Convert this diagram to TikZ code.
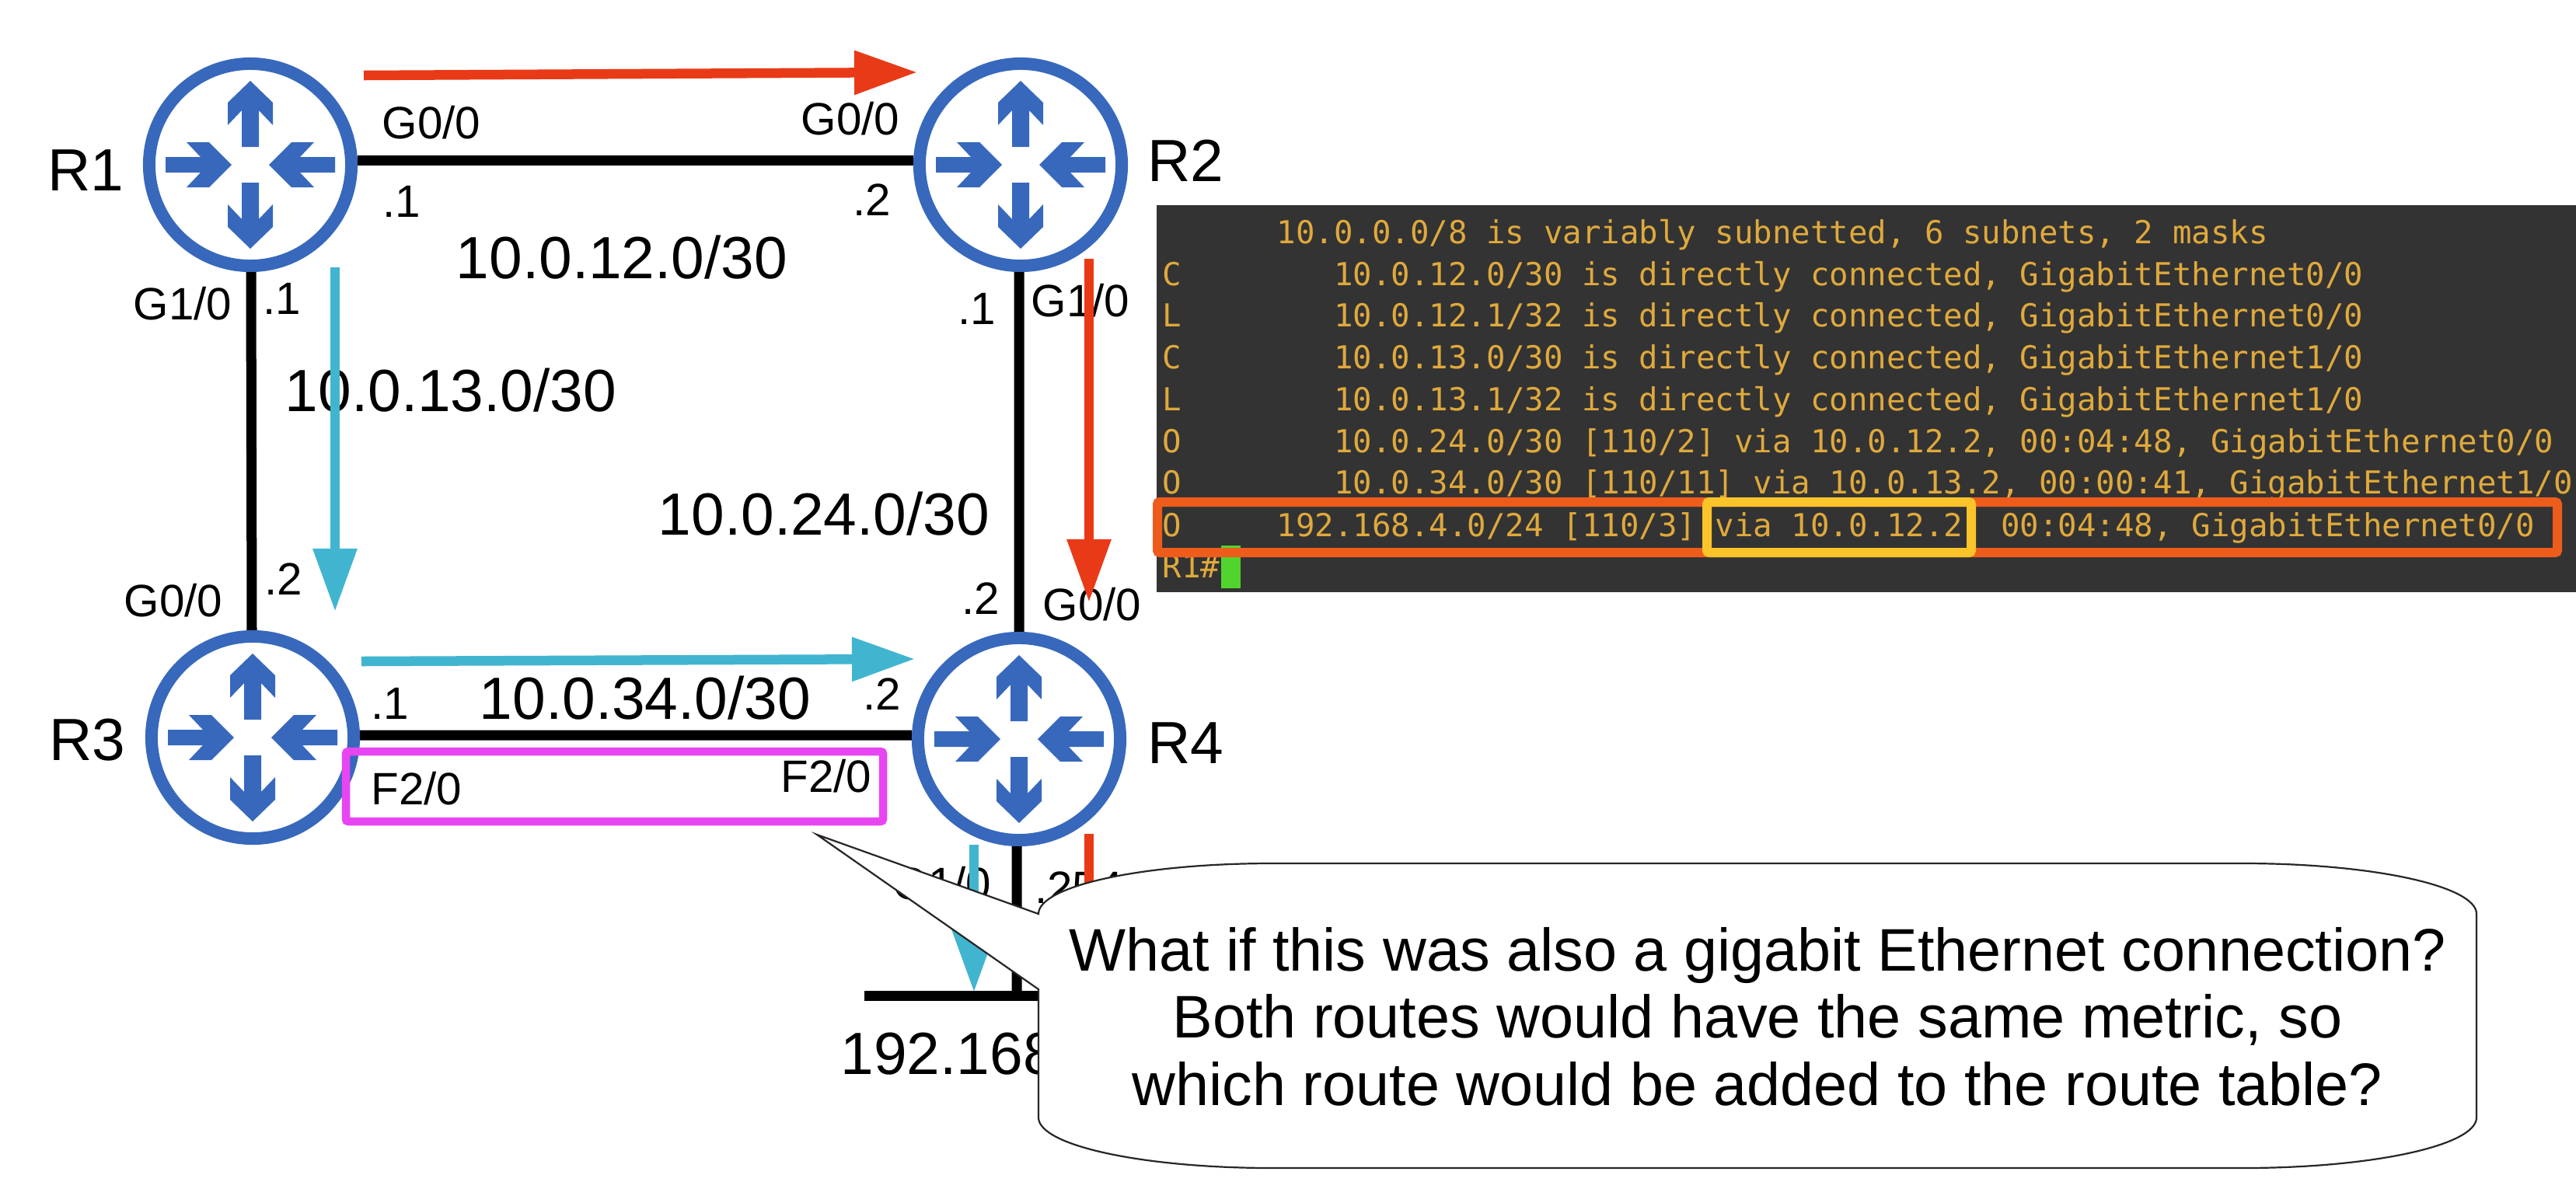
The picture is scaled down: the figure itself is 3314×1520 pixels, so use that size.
\documentclass[tikz,border=0pt]{standalone}
\usepackage{fontspec}
\setmainfont{Liberation Sans}
\newfontfamily\termfont{DejaVu Sans Mono}
\usetikzlibrary{arrows.meta}
\definecolor{routerblue}{HTML}{3768BC}
\definecolor{redarr}{HTML}{E93A18}
\definecolor{tealarr}{HTML}{41B5D0}
\definecolor{magbox}{HTML}{E845F2}
\definecolor{termbg}{HTML}{333333}
\definecolor{termtext}{HTML}{DFA93C}
\definecolor{orangebox}{HTML}{EE5C1C}
\definecolor{yellowbox}{HTML}{FBC42A}
\definecolor{cursorgreen}{HTML}{52D42E}
\tikzset{
  routerring/.style={circle,draw=routerblue,fill=white,line width=0.16cm,minimum size=2.6cm,inner sep=0pt},
  routerarrow/.style={fill=routerblue,draw=none},
  netlink/.style={draw=black,line width=0.13cm},
  redflow/.style={draw=redarr,line width=0.125cm,-{Triangle[length=0.81cm,width=0.54cm]}},
  tealflow/.style={draw=tealarr,line width=0.125cm,-{Triangle[length=0.81cm,width=0.54cm]}},
  small/.style={anchor=base,inner sep=0pt,font=\fontsize{16.6pt}{20pt}\selectfont},
  big/.style={anchor=base,inner sep=0pt,font=\fontsize{21.8pt}{26pt}\selectfont},
  termline/.style={anchor=base west,inner sep=0pt,text=termtext,font=\termfont\fontsize{11.58pt}{14pt}\selectfont},
  hilite/.style={line width=0.12cm,rounded corners=0.03cm},
  bubble/.style={draw=black!85,line width=0.022cm,fill=white},
  bubbletext/.style={inner sep=0pt,align=center,font=\fontsize{22pt}{24.6pt}\selectfont}
}
\newcommand{\routerat}[3]{%
  \node[routerring] (#1) at (#2,#3) {};
  \begin{scope}[shift={(#2,#3)}]
    \foreach \sy in {1,-1}{
      \fill[routerarrow,yscale=\sy] (0,-108)--(29,-80)--(29,-51)--(11,-70)--(11,-23)--(-11,-23)--(-11,-70)--(-29,-51)--(-29,-80)--cycle;
      \fill[routerarrow,xscale=\sy] (-24,0)--(-53,-29)--(-82,-29)--(-64,-10)--(-109,-10)--(-109,10)--(-64,10)--(-82,29)--(-53,29)--cycle;
    }
  \end{scope}}
\begin{document}
\begin{tikzpicture}[x=0.01cm,y=-0.01cm]
\useasboundingbox (0,0) rectangle (3314,1520);
\fill[white] (0,0) rectangle (3314,1520);

% terminal
\fill[termbg] (1488,264) rectangle (3314,762);
\node[termline] (t1) at (1495,313) {\ \ \ \ \ \ 10.0.0.0/8 is variably subnetted, 6 subnets, 2 masks};
\node[termline] (t2) at (1495,367) {C\ \ \ \ \ \ \ \ 10.0.12.0/30 is directly connected, GigabitEthernet0/0};
\node[termline] (t3) at (1495,420) {L\ \ \ \ \ \ \ \ 10.0.12.1/32 is directly connected, GigabitEthernet0/0};
\node[termline] (t4) at (1495,474) {C\ \ \ \ \ \ \ \ 10.0.13.0/30 is directly connected, GigabitEthernet1/0};
\node[termline] (t5) at (1495,528) {L\ \ \ \ \ \ \ \ 10.0.13.1/32 is directly connected, GigabitEthernet1/0};
\node[termline] (t6) at (1495,582) {O\ \ \ \ \ \ \ \ 10.0.24.0/30 [110/2] via 10.0.12.2, 00:04:48, GigabitEthernet0/0};
\node[termline] (t7) at (1495,635) {O\ \ \ \ \ \ \ \ 10.0.34.0/30 [110/11] via 10.0.13.2, 00:00:41, GigabitEthernet1/0};
\node[termline] (t8) at (1495,690) {O\ \ \ \ \ 192.168.4.0/24 [110/3] via 10.0.12.2, 00:04:48, GigabitEthernet0/0};
\node[termline] (t9) at (1495,743) {R1\#};
\fill[cursorgreen] (1571,702) rectangle (1596,757);
\draw[hilite,draw=orangebox] (1489,646) rectangle (3290,711);
\draw[hilite,draw=yellowbox] (2196,646) rectangle (2536,711);

% routers
\routerat{r1}{322}{212}
\routerat{r2}{1313}{212}
\routerat{r3}{325}{949}
\routerat{r4}{1311}{951}

% links
\coordinate (barL) at (1112,1281);
\coordinate (barR) at (1500,1281);
\coordinate (barJ) at (1308,1281);
\draw[netlink] ([yshift=0.06cm]r1.east) -- ([yshift=0.06cm]r2.west);
\draw[netlink] ([xshift=0.01cm]r1.south) -- ([xshift=-0.01cm]r3.north);
\draw[netlink] ([xshift=-0.02cm]r2.south) -- (r4.north);
\draw[netlink] ([yshift=0.03cm]r3.east) -- ([yshift=0.05cm]r4.west);
\draw[netlink] ([xshift=-0.03cm]r4.south) -- (barJ);
\draw[netlink] (barL) -- (barR);

% labels
\node[big] (lr1) at (110,245) {R1};
\node[big] (lr2) at (1525,233) {R2};
\node[big] (lr3) at (112,978) {R3};
\node[big] (lr4) at (1525,982) {R4};
\node[big] (n12) at (800,358) {10.0.12.0/30};
\node[big] (n13) at (580,529) {10.0.13.0/30};
\node[big] (n24) at (1060,688) {10.0.24.0/30};
\node[big] (n34) at (830,925) {10.0.34.0/30};
\node[big,anchor=base west] (n4) at (1081,1382) {192.168.4.0/24};
\node[small] (a1) at (555,178) {G0/0};
\node[small] (a2) at (517,279) {.1};
\node[small] (a3) at (235,411) {G1/0};
\node[small] (a4) at (363,404) {.1};
\node[small] (b1) at (1094,173) {G0/0};
\node[small] (b2) at (1122,277) {.2};
\node[small] (b3) at (1257,417) {.1};
\node[small] (b4) at (1390,407) {G1/0};
\node[small] (c1) at (223,793) {G0/0};
\node[small] (c2) at (365,765) {.2};
\node[small] (c3) at (502,925) {.1};
\node[small] (c4) at (536,1035) {F2/0};
\node[small] (d1) at (1262,790) {.2};
\node[small] (d2) at (1405,798) {G0/0};
\node[small] (d3) at (1135,913) {.2};
\node[small] (d4) at (1063,1019) {F2/0};
\node[small] (d5) at (1212,1157) {G1/0};
\node[small] (d6) at (1388,1162) {.254};

% flow arrows
\coordinate (fa1) at (468,97);   \coordinate (fa2) at (1180,93);
\coordinate (fb1) at (1401,333); \coordinate (fb2) at (1401,775);
\coordinate (fc1) at (1401,1073);\coordinate (fc2) at (1401,1277);
\coordinate (ga1) at (431,344);  \coordinate (ga2) at (431,787);
\coordinate (gb1) at (465,851);  \coordinate (gb2) at (1177,848);
\coordinate (gc1) at (1253,1087);\coordinate (gc2) at (1253,1277);
\draw[redflow] (fa1) -- (fa2);
\draw[redflow] (fb1) -- (fb2);
\draw[redflow] (fc1) -- (fc2);
\draw[tealflow] (ga1) -- (ga2);
\draw[tealflow] (gb1) -- (gb2);
\draw[tealflow] (gc1) -- (gc2);

% pink box
\draw[hilite,line width=0.105cm,draw=magbox] (445,967) rectangle (1136,1057);

% callout
\path[bubble] (1636,1111) -- (2886,1111)
  .. controls (3052,1111) and (3186,1140) .. (3186,1176)
  -- (3186,1438)
  .. controls (3186,1474) and (3052,1503) .. (2886,1503)
  -- (1636,1503)
  .. controls (1470,1503) and (1336,1474) .. (1336,1438)
  -- (1336,1273) -- (1051,1074) -- (1336,1176)
  .. controls (1336,1140) and (1470,1111) .. (1636,1111) -- cycle;
\node[bubbletext] (q) at (2261,1308) {What if this was also a gigabit Ethernet connection?\\Both routes would have the same metric, so\\which route would be added to the route table?};
\end{tikzpicture}
\end{document}
